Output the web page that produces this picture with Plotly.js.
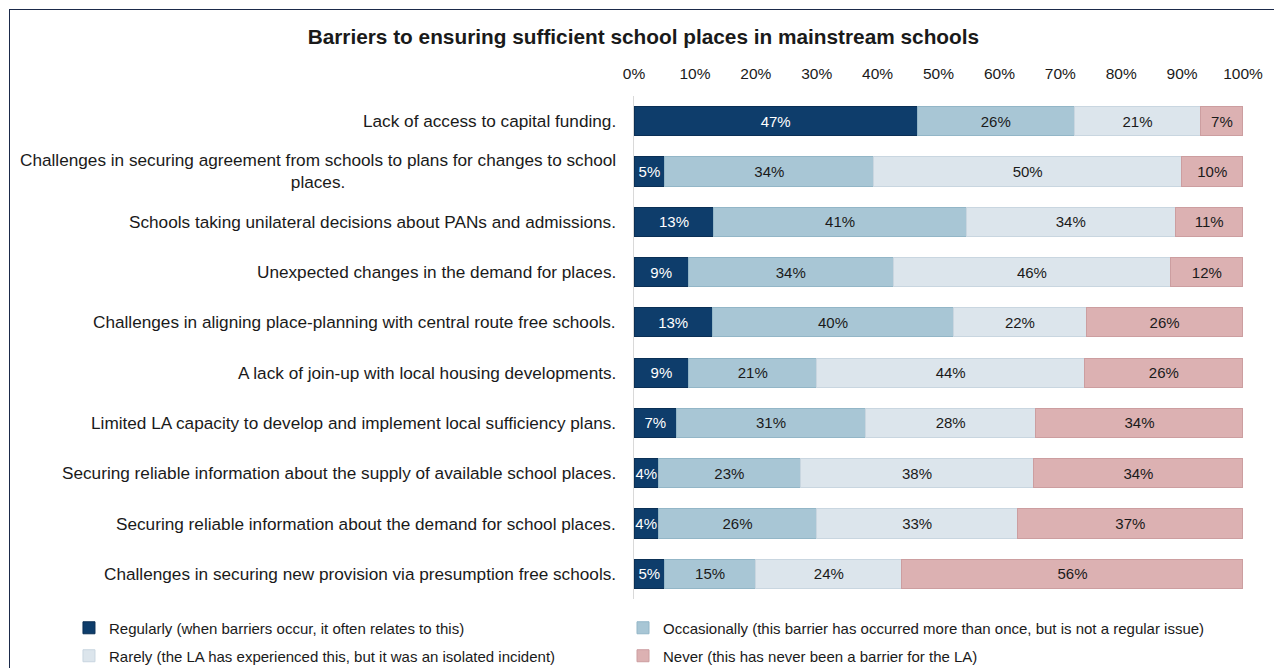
<!DOCTYPE html>
<html>
<head>
<meta charset="utf-8">
<script src="https://cdn.plot.ly/plotly-3.0.1.min.js"></script>
<style>
html,body{margin:0;padding:0;background:#fff;}
#wrap{position:relative;width:1274px;height:668px;}
#chart{width:1274px;height:668px;}
#frame{position:absolute;left:9px;top:9px;right:0;bottom:0;border-top:1.5px solid #1b2a4a;border-left:1.5px solid #1b2a4a;pointer-events:none;}
</style>
</head>
<body>
<div id="wrap"><div id="chart"></div><div id="frame"></div></div>
<script>
const categories = [
  "Lack of access to capital funding.",
  "Challenges in securing agreement from schools to plans for changes to school<br>places.",
  "Schools taking unilateral decisions about PANs and admissions.",
  "Unexpected changes in the demand for places.",
  "Challenges in aligning place-planning with central route free schools.",
  "A lack of join-up with local housing developments.",
  "Limited LA capacity to develop and implement local sufficiency plans.",
  "Securing reliable information about the supply of available school places.",
  "Securing reliable information about the demand for school places.",
  "Challenges in securing new provision via presumption free schools."
];
const regularly    = [47, 5, 13, 9, 13, 9, 7, 4, 4, 5];
const occasionally = [26, 34, 41, 34, 40, 21, 31, 23, 26, 15];
const rarely       = [21, 50, 34, 46, 22, 44, 28, 38, 33, 24];
const never        = [7, 10, 11, 12, 26, 26, 34, 34, 37, 56];
const seriesNames = [
  "Regularly (when barriers occur, it often relates to this)",
  "Occasionally (this barrier has occurred more than once, but is not a regular issue)",
  "Rarely (the LA has experienced this, but it was an isolated incident)",
  "Never (this has never been a barrier for the LA)"
];
const tickVals = [0,10,20,30,40,50,60,70,80,90,100];

const ids = categories.map((c,i)=>"c"+i);
const fills = ["#0e3d6b","#a8c6d5","#dce5ec","#dcb1b2"];
const edges = ["#0a2f55","#93b6c7","#c9d6e0","#cc9ea0"];
const txtCol = ["#ffffff","#1a1a1a","#1a1a1a","#1a1a1a"];
const series = [regularly, occasionally, rarely, never];
const legendIds = ["legend","legend2","legend3","legend4"];
const FONT = "Liberation Sans, Arial, sans-serif";

const traces = series.map((vals,k)=>({
  type:"bar", orientation:"h",
  y: ids, x: vals, name: seriesNames[k], legend: legendIds[k],
  text: vals.map(v=>v+"%"), textposition:"inside", insidetextanchor:"middle",
  textangle:0, constraintext:"none", cliponaxis:false,
  textfont:{family:FONT,size:15,color:txtCol[k]},
  marker:{color:fills[k],line:{color:edges[k],width:1}},
  hoverinfo:"name+x"
}));

const annotations = categories.map((c,i)=>({
  xref:"paper", yref:"y", x:0, y:ids[i], xanchor:"right", yanchor:"middle",
  xshift:-16, text:c, showarrow:false, align:"center",
  font:{family:FONT,size:17.2,color:"#1a1a1a"}
}));

const legendBase = {orientation:"h", xanchor:"left", yanchor:"middle",
  font:{family:FONT,size:15,color:"#1a1a1a"}, bgcolor:"rgba(0,0,0,0)"};
const legXs = [-0.9278, -0.01806, -0.9278, -0.01806];
const legYs = [-0.0577, -0.0577, -0.1133, -0.1133];

const layout = {
  width:1274, height:668,
  margin:{l:634,r:31,t:96,b:69,autoexpand:false},
  paper_bgcolor:"#ffffff", plot_bgcolor:"#ffffff",
  barmode:"stack", barnorm:"percent", bargap:0.42,
  title:{text:"<b>Barriers to ensuring sufficient school places in mainstream schools</b>",
    xref:"container", x:0.505, xanchor:"center", yref:"container", y:0.945, yanchor:"middle",
    font:{family:FONT,size:20.8,color:"#1a1a1a"}},
  xaxis:{side:"top", range:[0,100.001], tickvals:tickVals, ticktext:tickVals.map(v=>v+"%"),
    showgrid:false, zeroline:false, showline:false, ticks:"", ticklabelstandoff:13,
    tickfont:{family:FONT,size:15.5,color:"#1a1a1a"}, fixedrange:true},
  yaxis:{type:"category", autorange:"reversed", showticklabels:false, ticks:"",
    showgrid:false, zeroline:false, showline:true, linecolor:"#d9d9d9", linewidth:1, fixedrange:true},
  annotations: annotations,
  showlegend:true
};
legendIds.forEach((id,k)=>{ layout[id] = Object.assign({}, legendBase, {x:legXs[k], y:legYs[k]}); });

Plotly.newPlot("chart", traces, layout, {displayModeBar:false, staticPlot:true});
</script>
</body>
</html>
